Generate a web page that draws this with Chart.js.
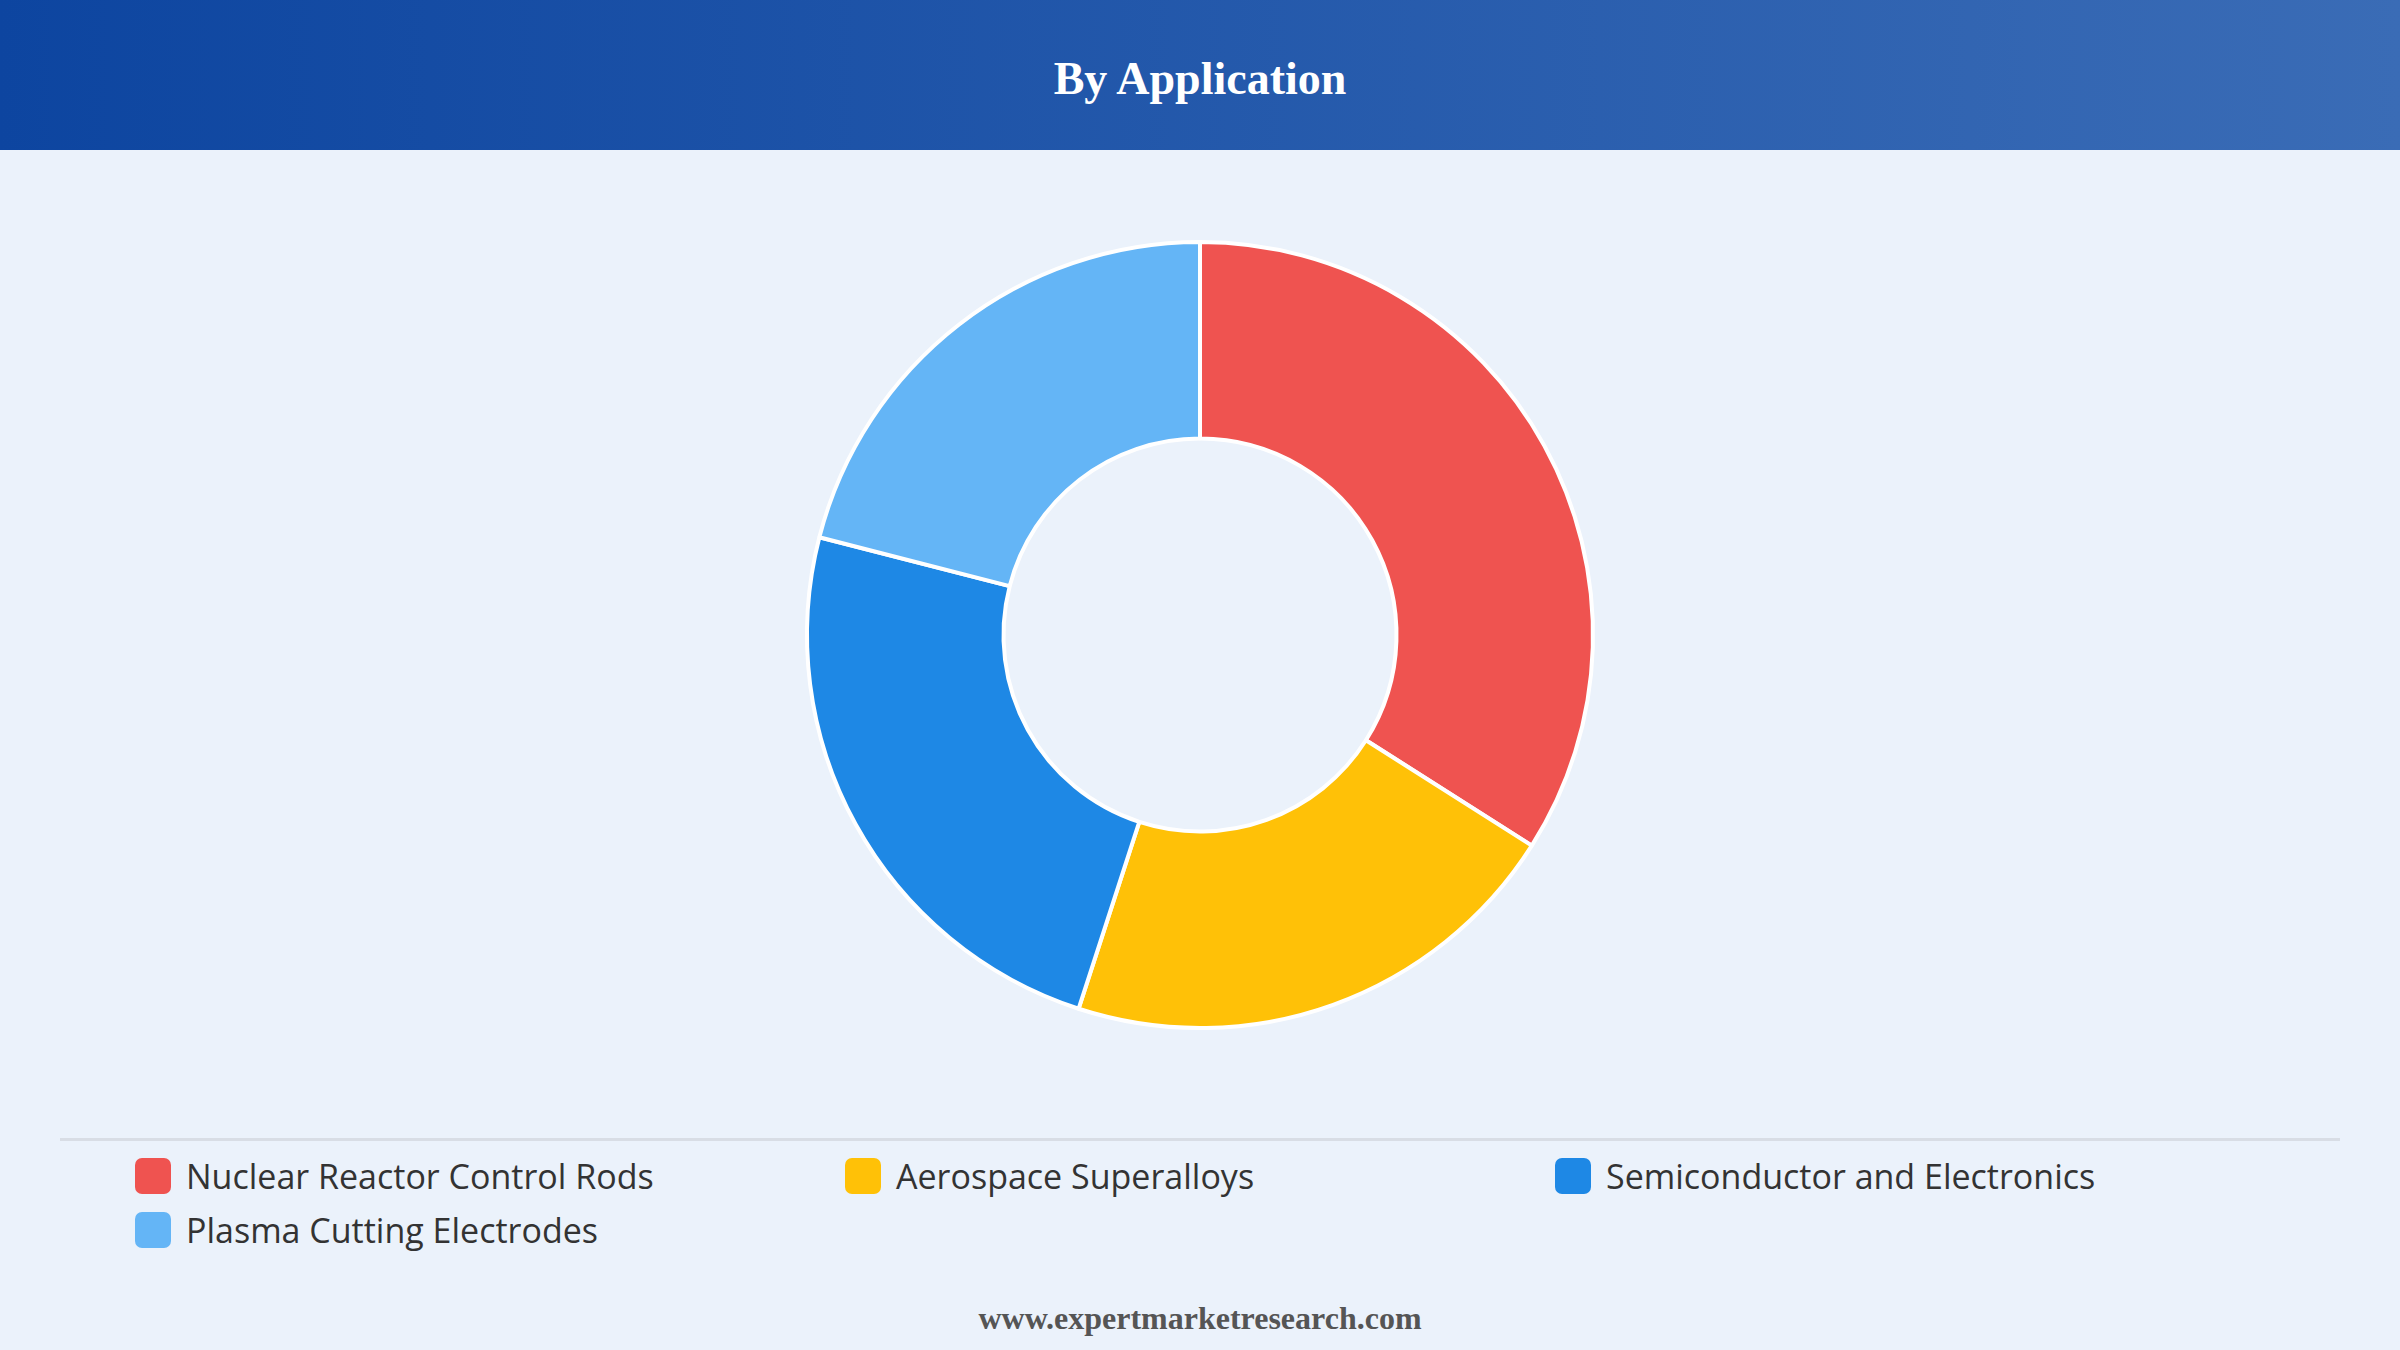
<!DOCTYPE html>
<html><head><meta charset="utf-8">
<script src="https://cdn.jsdelivr.net/npm/chart.js@4/dist/chart.umd.min.js"></script>
<style>
html,body{margin:0;padding:0;width:2400px;height:1350px;background:#ebf2fb;overflow:hidden;font-family:"Open Sans","Noto Sans",sans-serif}
#hdr{position:absolute;left:0;top:0;width:2400px;height:150px;background:linear-gradient(90deg,#0d45a0,#3a6cb6);}
#hdr div{position:absolute;width:100%;top:52px;text-align:center;color:#fff;font:bold 46px "Liberation Serif","DejaVu Serif",serif}
#wrap{position:absolute;left:700px;top:236px;width:1000px;height:798px}
#sep{position:absolute;left:60px;top:1138px;width:2280px;height:3px;background:#d8dde5}
.li{position:absolute;font-size:34px;color:#333;line-height:40px}
.li span{position:absolute;left:0;top:2px;width:36px;height:36px;border-radius:7px}
.li b{font-weight:normal;margin-left:51px}
#ft{position:absolute;width:100%;top:1300px;text-align:center;color:#555;font:bold 32px "Liberation Serif","DejaVu Serif",serif}
</style></head><body>
<div id="hdr"><div>By Application</div></div>
<div id="wrap"><canvas id="c"></canvas></div>
<div id="sep"></div>
<div id="leg"></div>
<div id="ft">www.expertmarketresearch.com</div>
<script>
const categories=["Nuclear Reactor Control Rods","Aerospace Superalloys","Semiconductor and Electronics","Plasma Cutting Electrodes"];
const values=[34,21,24,21];
const colors=["#ef5350","#ffc107","#1e88e5","#64b5f6"];
new Chart(document.getElementById('c'),{type:'doughnut',
data:{labels:categories,datasets:[{data:values,backgroundColor:colors,borderColor:'#ffffff',borderWidth:4}]},
options:{responsive:true,maintainAspectRatio:false,animation:false,cutout:'50%',
layout:{padding:4},plugins:{legend:{display:false},tooltip:{enabled:false}}}});
const pos=[[135,1156],[845,1156],[1555,1156],[135,1210]];
const leg=document.getElementById('leg');
categories.forEach((c,i)=>{const d=document.createElement('div');d.className='li';
d.style.left=pos[i][0]+'px';d.style.top=pos[i][1]+'px';
d.innerHTML='<span style="background:'+colors[i]+'"></span><b>'+c+'</b>';leg.appendChild(d);});
</script></body></html>
